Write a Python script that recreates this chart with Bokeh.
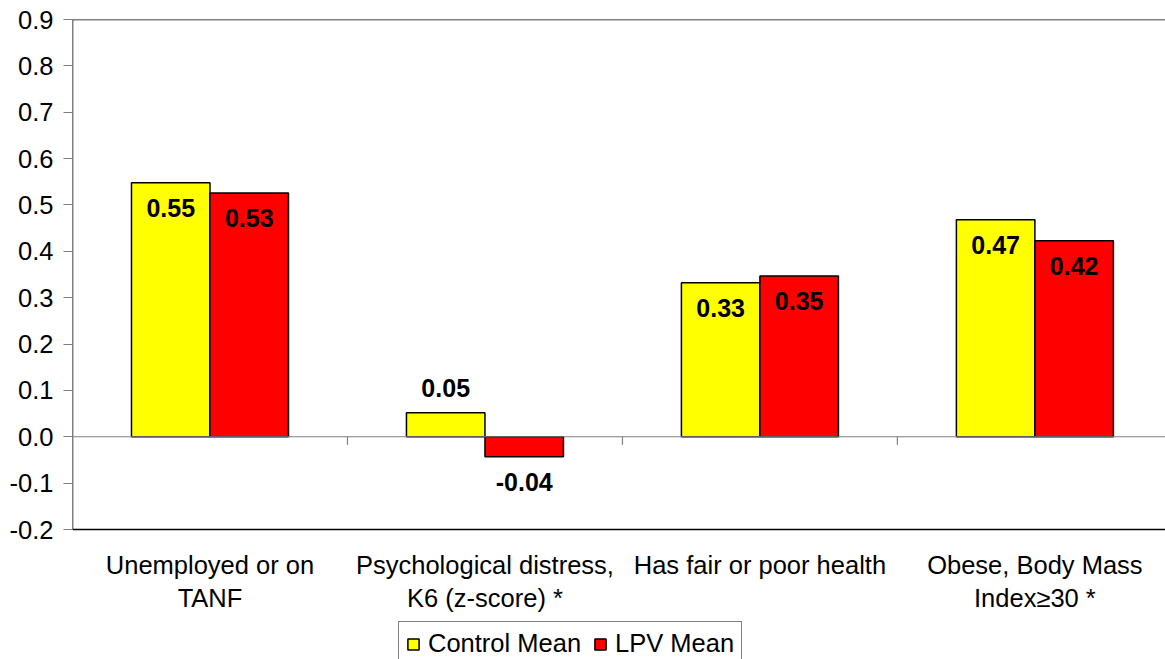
from bokeh.plotting import figure
from bokeh.models import (ColumnDataSource, FixedTicker, LinearAxis, Span, Legend,
                          LegendItem)
from bokeh.transform import dodge
from bokeh.embed import file_html
from bokeh.resources import INLINE
from bokeh.core.properties import value

# ---- data ----
categories = ["Unemployed or on\nTANF",
              "Psychological distress,\nK6 (z-score) *",
              "Has fair or poor health",
              "Obese, Body Mass\nIndex\u226530 *"]
control_mean = [0.548, 0.052, 0.332, 0.468]
lpv_mean = [0.526, -0.043, 0.347, 0.423]
series_names = ["Control Mean", "LPV Mean"]
y_ticks = [-0.2, -0.1, 0.0, 0.1, 0.2, 0.3, 0.4, 0.5, 0.6, 0.7, 0.8, 0.9]
label_placement = ["inside", "outside", "inside", "inside"]

FONT = "Liberation Sans"
FS = "25.5px"
n = len(categories)
centers = [i + 0.5 for i in range(n)]

Y_MIN, Y_MAX = -0.2, 0.9
PLOT_H = 510                     # pixel height of the value area
PX_PER_UNIT = PLOT_H / (Y_MAX - Y_MIN)
BELOW_PX = 130                   # room under the value area for labels + legend
Y_BOTTOM = Y_MIN - BELOW_PX / PX_PER_UNIT

def offsets(vals):
    out = []
    for v, pl in zip(vals, label_placement):
        if pl == "inside":
            out.append(25 if v >= 0 else -25)
        else:
            out.append(-25 if v >= 0 else 25)
    return out

src = ColumnDataSource(dict(
    x=centers,
    control=control_mean,
    lpv=lpv_mean,
    control_lbl=["%.2f" % v for v in control_mean],
    lpv_lbl=["%.2f" % v for v in lpv_mean],
    control_off=offsets(control_mean),
    lpv_off=offsets(lpv_mean),
))

p = figure(frame_width=1093, frame_height=PLOT_H + BELOW_PX, x_range=(0, 3.975),
           y_range=(Y_BOTTOM, Y_MAX),
           output_backend="svg", toolbar_location=None,
           min_border_left=72, min_border_right=0, min_border_top=19,
           min_border_bottom=0, outline_line_color=None)
p.xaxis.visible = False
p.yaxis.visible = False
p.xgrid.visible = False
p.ygrid.visible = False

bw = 0.2855
r1 = p.vbar(x=dodge("x", -bw / 2, range=p.x_range), top="control", bottom=0, width=bw,
            source=src, fill_color="#FFFF00", line_color="black", line_width=1.5)
r2 = p.vbar(x=dodge("x", bw / 2, range=p.x_range), top="lpv", bottom=0, width=bw,
            source=src, fill_color="#FF0000", line_color="black", line_width=1.5)

# zero line
p.add_layout(Span(location=0, dimension="width", line_color="#7f7f7f", line_width=1.2))
# frame lines: top, bottom, left
p.add_layout(Span(location=Y_MAX, dimension="width", line_color="black", line_width=1.5))
p.add_layout(Span(location=Y_MIN, dimension="width", line_color="black", line_width=1.5))
p.segment(x0=[0], x1=[0], y0=[Y_MIN], y1=[Y_MAX], line_color="black", line_width=1.5)
# category separator ticks on the zero line
bounds = [float(i) for i in range(1, n)]
tick_len = 8 / PX_PER_UNIT
p.segment(x0=bounds, x1=bounds, y0=[0.0] * len(bounds), y1=[-tick_len] * len(bounds),
          line_color="#7f7f7f", line_width=1.2)

# data labels
p.text(x=dodge("x", -bw / 2, range=p.x_range), y="control", text="control_lbl",
       y_offset="control_off", source=src, text_align="center", text_baseline="middle",
       text_font=value(FONT), text_font_size="25px", text_font_style="bold", text_color="black")
p.text(x=dodge("x", bw / 2, range=p.x_range), y="lpv", text="lpv_lbl",
       y_offset="lpv_off", source=src, text_align="center", text_baseline="middle",
       text_font=value(FONT), text_font_size="25px", text_font_style="bold", text_color="black")

# category labels under the value area
p.text(x=centers, y=[Y_MIN] * n, text=categories, y_offset=21,
       text_align="center", text_baseline="top", text_line_height=1.2,
       text_font=value(FONT), text_font_size=FS, text_color="black")

# y axis
yax = LinearAxis(ticker=FixedTicker(ticks=y_ticks))
yax.major_label_overrides = {t: "%.1f" % t for t in y_ticks}
yax.major_label_text_font = FONT
yax.major_label_text_font_size = FS
yax.major_label_text_color = "black"
yax.axis_line_color = None
yax.major_tick_line_color = "#7f7f7f"
yax.major_tick_line_width = 1.2
yax.major_tick_in = 0
yax.major_tick_out = 9
yax.minor_tick_line_color = None
yax.major_label_standoff = 10
p.add_layout(yax, "left")

legend = Legend(items=[LegendItem(label=series_names[0], renderers=[r1]),
                       LegendItem(label=series_names[1], renderers=[r2])],
                orientation="horizontal", location=(326, -7))
legend.label_text_font = FONT
legend.label_text_font_size = FS
legend.label_text_color = "black"
legend.glyph_width = 14
legend.glyph_height = 14
legend.label_standoff = 8
legend.spacing = 12
legend.padding = 7
legend.margin = 0
legend.border_line_color = "black"
legend.border_line_width = 1
legend.background_fill_color = "white"
p.add_layout(legend, "center")

open("out.html", "w").write(file_html(p, INLINE))
